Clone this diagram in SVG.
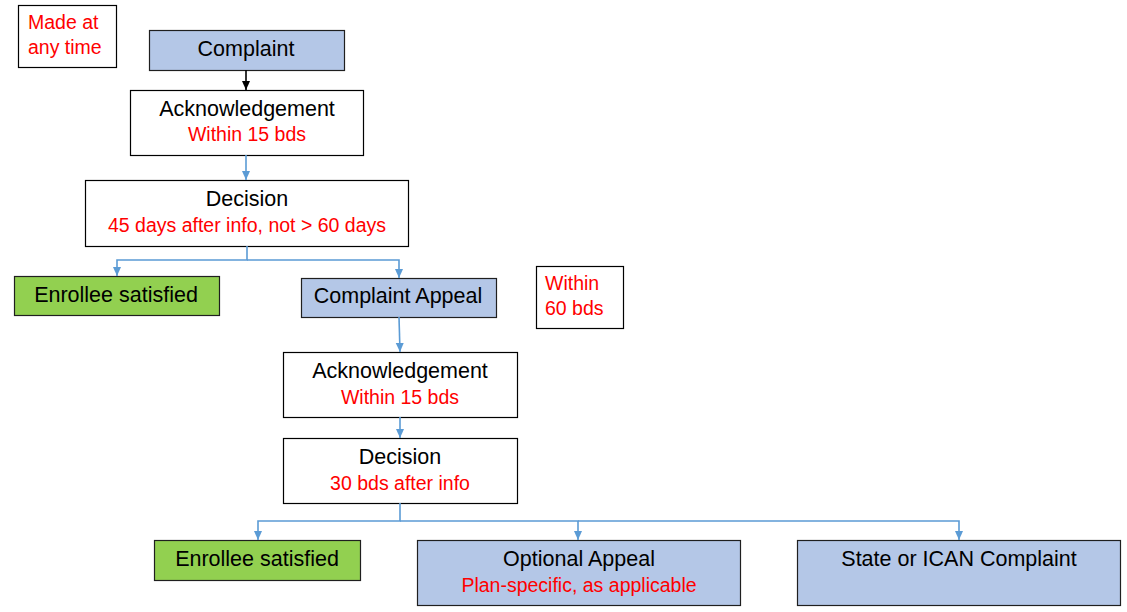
<svg xmlns="http://www.w3.org/2000/svg" width="1127" height="612" viewBox="0 0 1127 612">
<defs>
<marker id="ab" markerWidth="10" markerHeight="10" refX="9" refY="5" orient="auto" markerUnits="userSpaceOnUse"><path d="M0,1 L9,5 L0,9 Z" fill="#5b9bd5"/></marker>
<marker id="ak" markerWidth="10" markerHeight="10" refX="9" refY="5" orient="auto" markerUnits="userSpaceOnUse"><path d="M0,1 L9,5 L0,9 Z" fill="#000"/></marker>
</defs>
<style>
.box{fill:#fff;stroke:#000;stroke-width:1.2}
.blue{fill:#b4c7e7;stroke:#1f1f1f;stroke-width:1.2}
.green{fill:#92d050;stroke:#1f1f1f;stroke-width:1.2}
.t{font-family:"Liberation Sans",Arial,sans-serif;font-size:21.5px;fill:#000;text-anchor:middle}
.r{font-family:"Liberation Sans",Arial,sans-serif;font-size:19.5px;fill:#ff0000;text-anchor:middle}
.rl{font-family:"Liberation Sans",Arial,sans-serif;font-size:19.5px;fill:#ff0000}
.c{fill:none;stroke:#5b9bd5;stroke-width:1.6}
</style>
<rect width="1127" height="612" fill="#fff"/>
<g id="note-any-time"><rect class="box" x="18.5" y="5.5" width="98" height="62"/><text class="rl" x="28" y="29">Made at</text><text class="rl" x="28" y="54">any time</text></g>
<g id="complaint"><rect class="blue" x="149.5" y="30.5" width="195" height="40"/><text class="t" x="246" y="56">Complaint</text></g>
<g id="ack1"><rect class="box" x="130.5" y="90.5" width="233" height="65"/><text class="t" x="247" y="116">Acknowledgement</text><text class="r" x="247" y="141">Within 15 bds</text></g>
<g id="decision1"><rect class="box" x="85.5" y="180.5" width="323" height="66"/><text class="t" x="247" y="206">Decision</text><text class="r" x="247" y="232">45 days after info, not &gt; 60 days</text></g>
<g id="satisfied1"><rect class="green" x="14.5" y="276.5" width="205" height="39"/><text class="t" x="116" y="302">Enrollee satisfied</text></g>
<g id="appeal"><rect class="blue" x="301.5" y="278.5" width="195" height="39"/><text class="t" x="398" y="303">Complaint Appeal</text></g>
<g id="note-60"><rect class="box" x="536.5" y="266.5" width="87" height="62"/><text class="rl" x="545" y="290">Within</text><text class="rl" x="545" y="315">60 bds</text></g>
<g id="ack2"><rect class="box" x="283.5" y="352.5" width="234" height="65"/><text class="t" x="400" y="378">Acknowledgement</text><text class="r" x="400" y="404">Within 15 bds</text></g>
<g id="decision2"><rect class="box" x="283.5" y="438.5" width="234" height="65"/><text class="t" x="400" y="464">Decision</text><text class="r" x="400" y="490">30 bds after info</text></g>
<g id="satisfied2"><rect class="green" x="154.5" y="540.5" width="206" height="40"/><text class="t" x="257" y="566">Enrollee satisfied</text></g>
<g id="optional"><rect class="blue" x="417.5" y="540.5" width="323" height="65"/><text class="t" x="579" y="566">Optional Appeal</text><text class="r" x="579" y="592">Plan-specific, as applicable</text></g>
<g id="state"><rect class="blue" x="797.5" y="540.5" width="323" height="65"/><text class="t" x="959" y="566">State or ICAN Complaint</text></g>
<g id="connectors">
<path d="M246,70 V90" fill="none" stroke="#000" stroke-width="1.6" marker-end="url(#ak)"/>
<path class="c" d="M246,155 V180" marker-end="url(#ab)"/>
<path class="c" d="M247,246 V260 H117 V276" marker-end="url(#ab)"/>
<path class="c" d="M247,260 H399 V278" marker-end="url(#ab)"/>
<path class="c" d="M399,317 L400,352" marker-end="url(#ab)"/>
<path class="c" d="M400,417 V438" marker-end="url(#ab)"/>
<path class="c" d="M400,503 V521 H258 V540" marker-end="url(#ab)"/>
<path class="c" d="M400,521 H578 V540" marker-end="url(#ab)"/>
<path class="c" d="M578,521 H959 V540" marker-end="url(#ab)"/>
</g>
</svg>
